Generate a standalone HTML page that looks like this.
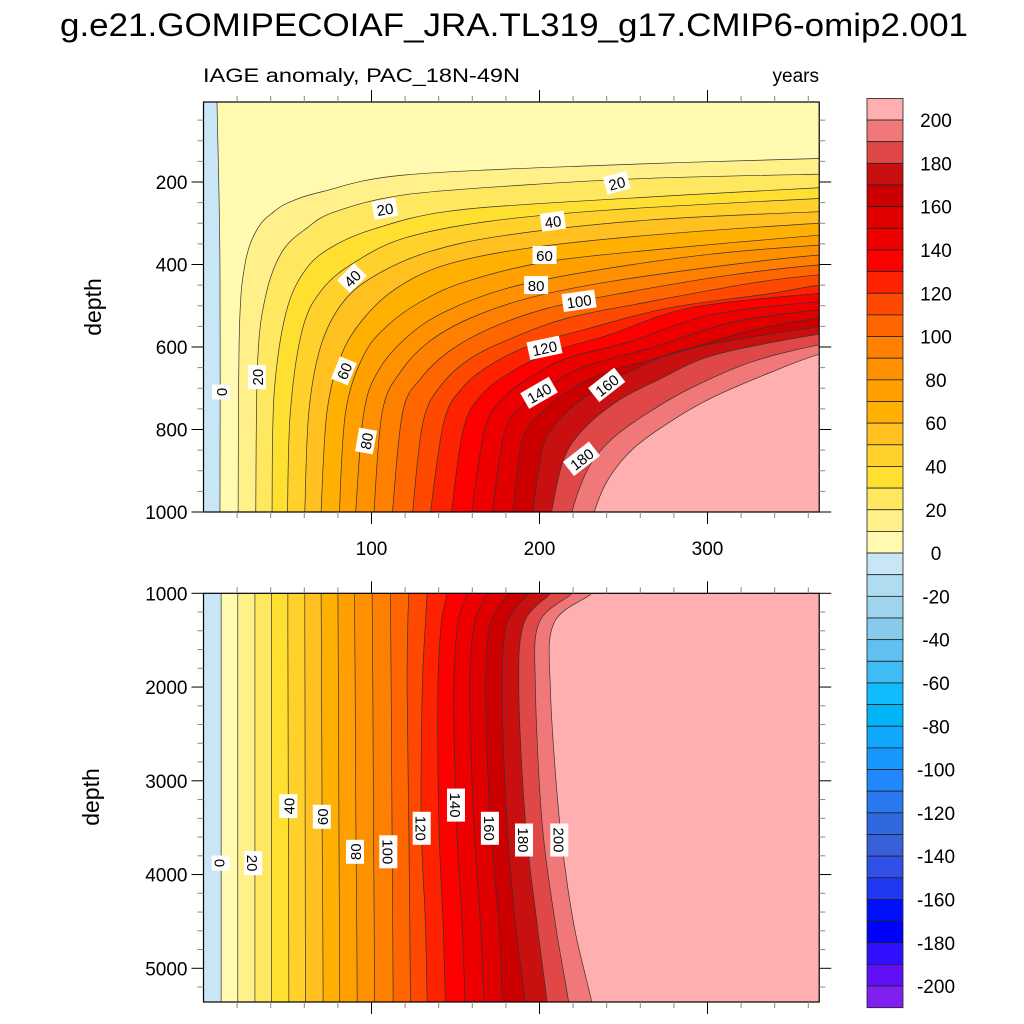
<!DOCTYPE html>
<html><head><meta charset="utf-8"><style>
html,body{margin:0;padding:0;background:#fff;}
svg{display:block;font-family:"Liberation Sans",sans-serif;}
</style></head><body>
<svg id="chart" width="1024" height="1024" viewBox="0 0 1024 1024" xmlns="http://www.w3.org/2000/svg">
<text x="60" y="36" font-size="32" textLength="908" lengthAdjust="spacingAndGlyphs">g.e21.GOMIPECOIAF_JRA.TL319_g17.CMIP6-omip2.001</text>
<text x="203" y="82" font-size="19" textLength="317" lengthAdjust="spacingAndGlyphs">IAGE anomaly, PAC_18N-49N</text>
<text x="819" y="82" font-size="19" text-anchor="end">years</text>
<text transform="translate(101,307) rotate(-90)" font-size="23" text-anchor="middle">depth</text>
<text transform="translate(99,797) rotate(-90)" font-size="23" text-anchor="middle">depth</text>
<g id="layer"></g>
</svg>
<script>
// ---- data ----
const levels = [0,10,20,30,40,50,60,70,80,90,100,110,120,130,140,150,160,170,180,190,200];
const bandColors = ['#fffab0','#fff08a','#ffe860','#ffe030','#ffd12a','#ffc020','#ffb000','#ffa000','#ff9100','#ff8000','#ff6600','#ff4800','#ff2200','#ff0000','#ee0000','#e00000','#cc0000','#c81010','#e04848','#f07878','#ffafaf'];
const negColors = ['#c8e6f5','#b0dcf2','#9ed4ee','#88caec','#60c0f0','#40bcf4','#10bcfc','#00b4f8','#10a8fc','#1898fc','#2088fc','#2a78f0','#3068e0','#3860d8','#3050e8','#2038f0','#0010ff','#0000ff','#3010ff','#6010f8','#8020f0'];
const cbarLabels = [200,180,160,140,120,100,80,60,40,20,0,-20,-40,-60,-80,-100,-120,-140,-160,-180,-200];

// top panel contours: time (years) and depth (m) per level
const topT = [
 [9.8,9.8,8,8],
 [20.6,21.4,25,32.3,41.9,51.7,71.1,119.6,241,366.5],
 [31.1,32.2,37.1,46.8,61.4,78.4,119.6,192,265.6,366.5],
 [40.8,42,49.3,61.4,78.4,102.9,144,216.6,366.5],
 [50,51.7,59,71.1,90.6,119.6,168.6,241,366.5],
 [60.3,62.7,70,83.3,102.9,134.3,180.3,265.6,366.5],
 [70,73.5,82.1,95.5,114.7,144,192,265.6,366.5],
 [80.9,84.6,95.5,109.8,129.4,155.8,204.8,277.3,366.5],
 [90.6,95.5,104.9,122.5,144,180.3,229.3,301.8,366.5],
 [101.5,106.4,117.3,134.3,158.8,193,241,314.6,366.5],
 [112.5,118.6,129.4,146,170.5,204.8,253.8,314.6,366.5],
 [124.5,130.7,141.6,158.8,183.3,216.6,265.6,326.3,366.5],
 [135.2,143.1,153.9,170.5,195,229.3,277.3,338.1,366.5],
 [147.7,154.8,165.6,183.3,207.8,241,290,366.5],
 [159.7,167.6,178.4,195,216.6,253.8,301.8,366.5],
 [172,179.3,190.1,207.8,229.3,265.6,314.6,366.5],
 [184.2,190.1,202.9,219.5,241,277.3,326.3,366.5],
 [196.3,202.4,214.6,231.6,253.5,290,366.5],
 [207.3,214.6,226.7,246.2,270.5,304.5,366.5],
 [219.4,229,243.7,265.6,289.9,326.4,366.5],
 [232.8,241.3,255.9,277.8,302.1,338.5,366.5]
];
const topZ = [
 [1000,400,0,-20],
 [1000,555,393,312,272,248,223,183,159,143],
 [1000,636,474,369,312,272,231,207,191,181],
 [1000,716,514,409,353,312,272,248,214],
 [1000,757,555,458,393,336,296,268,240],
 [1000,757,595,490,425,369,329,292,272],
 [1000,757,619,530,458,401,361,329,300],
 [1000,757,619,547,490,442,393,361,329],
 [1000,757,652,571,514,458,417,375,353],
 [1000,757,660,587,530,482,442,400,377],
 [1000,757,676,611,555,506,466,425,401],
 [1000,781,692,628,579,530,490,445,425],
 [1000,781,700,644,595,555,505,470,450],
 [1000,797,716,660,611,571,505,470],
 [1000,797,724,672,627,587,522,490],
 [1000,805,741,688,644,603,540,510],
 [1000,821,753,700,660,619,560,530],
 [998,838,765,708,660,603,551],
 [998,870,797,732,680,619,569],
 [998,894,821,757,700,636,595],
 [998,918,846,781,724,660,618]
];
// bottom panel contours: time per level at fixed depths
const botZ = [1000,1320,2030,3460,4530,5380];
const botT = [
 [10.5,10.5,10.5,10.5,10.5,10.5],
 [20.4,20.4,20.4,20.4,20.4,20.4],
 [30.6,30.6,30.6,30.6,30.6,30.6],
 [40.5,40.5,40.5,40.5,40.5,40.5],
 [50.2,50.2,50.3,50.5,50.7,50.8],
 [60.3,60.3,60.4,60.5,60.6,60.7],
 [70.0,70.1,70.3,70.6,71.0,71.2],
 [80.0,80.1,80.3,80.6,80.9,81.1],
 [89.9,90.0,90.3,90.7,91.2,91.5],
 [100.4,100.5,100.8,101.2,101.6,101.8],
 [111.3,111.4,111.7,112.2,112.6,112.9],
 [122.2,121.6,121.2,122.2,122.8,123.2],
 [133.1,132.1,130.2,129.6,132.1,133.1],
 [145.0,141.5,139.5,140.1,142.6,144.0],
 [156.9,151.4,149.0,150.6,154.0,155.6],
 [168.8,161.3,158.5,160.9,164.9,166.9],
 [181.7,170.8,167.9,170.8,175.8,177.8],
 [193.6,180.7,177.8,180.7,185.7,191.7],
 [206.5,190.7,187.7,191.7,198.6,204.6],
 [219.4,199.6,197.6,201.6,209.5,217.5],
 [231.3,208.5,206.5,212.1,220.4,231.3]
];
const topLabelText = ['20','20','40','60','80','100','120','140','160','180','40','60','80','20','0'];
const topLabelT = [108,246,208,203,198,223.5,203,199.7,240,225,88.4,83.6,96.7,31.8,10.4];
const topLabelZ = [265,202,295,377,450,488,602,711,692,871,433,658,828,673,709];
const topLabelAng = [-10,-15,-8,0,0,-8,-12,-30,-38,-38,-45,-68,-80,-90,-90];
const botLabelText = ['0','20','40','60','80','100','120','140','160','180','200'];
const botLabelT = [10.2,29.6,50.5,70.4,90.2,110,129.9,150.3,170.5,190.8,211.8];
const botLabelZ = [3878,3878,3270,3384,3757,3757,3507,3259,3507,3632,3632];
const botLabelAng = [90,90,-90,-90,-90,90,90,90,90,90,90];
const xTicks = [100,200,300];
const topYTicks = [200,400,600,800,1000];
const botYTicks = [1000,2000,3000,4000,5000];

// ---- scales ----
const X0=203.5, PX=1.68, TMAX=366.5;
const sx = t => X0 + t*PX;
const topY = z => 99.5 + z*0.4125;
const botY = z => 593.3 + (z-1000)*0.09375;
const TOP={x:203.5,y:102,w:TMAX*PX,h:410};
const BOT={x:203.5,y:593.3,w:TMAX*PX,h:1002-593.3};
const NS='http://www.w3.org/2000/svg';
const layer=document.getElementById('layer');
function mk(tag,attrs,parent){const e=document.createElementNS(NS,tag);for(const k in attrs)e.setAttribute(k,attrs[k]);(parent||layer).appendChild(e);return e;}

function smooth(pts){
  let d='M'+pts[0][0].toFixed(2)+','+pts[0][1].toFixed(2);
  for(let i=0;i<pts.length-1;i++){
    const p0=pts[Math.max(0,i-1)],p1=pts[i],p2=pts[i+1],p3=pts[Math.min(pts.length-1,i+2)];
    const c1=[p1[0]+(p2[0]-p0[0])/6,p1[1]+(p2[1]-p0[1])/6];
    const c2=[p2[0]-(p3[0]-p1[0])/6,p2[1]-(p3[1]-p1[1])/6];
    d+='C'+c1[0].toFixed(2)+','+c1[1].toFixed(2)+' '+c2[0].toFixed(2)+','+c2[1].toFixed(2)+' '+p2[0].toFixed(2)+','+p2[1].toFixed(2);
  }
  return d;
}

const defs=mk('defs',{});
const cp1=mk('clipPath',{id:'clipTop'},defs);mk('rect',{x:TOP.x,y:TOP.y,width:TOP.w,height:TOP.h},cp1);
const cp2=mk('clipPath',{id:'clipBot'},defs);mk('rect',{x:BOT.x,y:BOT.y,width:BOT.w,height:BOT.h},cp2);

// ---- top panel ----
const gTop=mk('g',{'clip-path':'url(#clipTop)'});


const bgT=mk('rect',{x:TOP.x,y:TOP.y,width:TOP.w,height:TOP.h,fill:negColors[0]},gTop);


const topLines=[];
levels.forEach((lv,i)=>{
  const pts=topT[i].map((t,j)=>[sx(t),topY(topZ[i][j])]);
  pts.unshift([pts[0][0],topY(1040)]);
  const last=pts[pts.length-1];
  pts.push([sx(TMAX+15),last[1]]);
  const line=smooth(pts);
  const f=mk('path',{d:line+'L'+sx(TMAX+20)+','+topY(1100)+'L'+pts[0][0]+','+topY(1100)+'Z',fill:bandColors[i],stroke:'none'},gTop);
  
  
  topLines.push(line);
});
topLines.forEach((line,i)=>{
  const s=mk('path',{d:line,fill:'none',stroke:'#333',"stroke-width":0.7},gTop);
  
  
});
topLabelText.forEach((txt,i)=>{
  const g=mk('g',{transform:'translate('+sx(topLabelT[i]).toFixed(1)+','+topY(topLabelZ[i]).toFixed(1)+') rotate('+topLabelAng[i]+')'},gTop);
  
  
  const w=txt.length*9+6;
  mk('rect',{x:-w/2,y:-9,width:w,height:18,fill:'#fff'},g);
  const t=mk('text',{x:0,y:6,'font-size':15,'text-anchor':'middle'},g);t.textContent=txt;
});

// ---- bottom panel ----
const gBot=mk('g',{'clip-path':'url(#clipBot)'});


const bgB=mk('rect',{x:BOT.x,y:BOT.y,width:BOT.w,height:BOT.h,fill:negColors[0]},gBot);


const botLines=[];
levels.forEach((lv,i)=>{
  const pts=botT[i].map((t,j)=>[sx(t),botY(botZ[j])]);
  pts.unshift([pts[0][0],botY(900)]);
  pts.push([pts[pts.length-1][0],botY(5600)]);
  const line=smooth(pts);
  const f=mk('path',{d:line+'L'+sx(TMAX+20)+','+botY(5600)+'L'+sx(TMAX+20)+','+botY(900)+'Z',fill:bandColors[i],stroke:'none'},gBot);
  
  
  botLines.push(line);
});
botLines.forEach((line,i)=>{
  const s=mk('path',{d:line,fill:'none',stroke:'#333',"stroke-width":0.7},gBot);
  
  
});
botLabelText.forEach((txt,i)=>{
  const g=mk('g',{transform:'translate('+sx(botLabelT[i]).toFixed(1)+','+botY(botLabelZ[i]).toFixed(1)+') rotate('+botLabelAng[i]+')'},gBot);
  
  
  const w=txt.length*9+6;
  mk('rect',{x:-w/2,y:-9,width:w,height:18,fill:'#fff'},g);
  const t=mk('text',{x:0,y:6,'font-size':15,'text-anchor':'middle'},g);t.textContent=txt;
});

// ---- frames and ticks ----
function frame(P,name,yf,yTicks,yMinorStep,yMin,yMax,xLabels){
  const g=mk('g',{});
  
  
  mk('rect',{x:P.x,y:P.y,width:P.w,height:P.h,fill:'none',stroke:'#000','stroke-width':1.2},g);
  for(let t=20;t<=TMAX;t+=20){
    const maj=t%100===0, L=maj?12:6, x=sx(t);
    mk('line',{x1:x,x2:x,y1:P.y+P.h,y2:P.y+P.h+L,stroke:maj?'#000':'#888','stroke-width':1},g);
    mk('line',{x1:x,x2:x,y1:P.y,y2:P.y-L,stroke:maj?'#000':'#888','stroke-width':1},g);
  }
  if(xLabels){xTicks.forEach(t=>{const tx=mk('text',{x:sx(t),y:P.y+P.h+43,'font-size':19,'text-anchor':'middle'},g);tx.textContent=t;});}
  for(let z=Math.ceil(yMin/yMinorStep)*yMinorStep;z<=yMax;z+=yMinorStep){
    const y=yf(z); if(y<P.y-0.5||y>P.y+P.h+0.5)continue;
    const maj=yTicks.includes(z), L=maj?12:6;
    mk('line',{x1:P.x,x2:P.x-L,y1:y,y2:y,stroke:maj?'#000':'#888','stroke-width':1},g);
    mk('line',{x1:P.x+P.w,x2:P.x+P.w+L,y1:y,y2:y,stroke:maj?'#000':'#888','stroke-width':1},g);
  }
  yTicks.forEach(z=>{const tx=mk('text',{x:P.x-16,y:yf(z)+7,'font-size':19,'text-anchor':'end'},g);tx.textContent=z;});
}
frame(TOP,'top-panel',topY,topYTicks,50,0,1000,true);
frame(BOT,'bottom-panel',botY,botYTicks,200,1000,5400,false);

// ---- colorbar ----
const cb=mk('g',{});


const CBX=867,CBW=36,CBTOP=98.4,BH=21.65;
const allColors=bandColors.slice().reverse().concat(negColors);
allColors.forEach((c,i)=>{
  const r=mk('rect',{x:CBX,y:CBTOP+i*BH,width:CBW,height:BH,fill:c,stroke:'#222','stroke-width':0.8},cb);
  
  
});
cbarLabels.forEach(v=>{
  const y=CBTOP+BH+(200-v)/10*BH;
  const t=mk('text',{x:936,y:y+7,'font-size':19,'text-anchor':'middle'},cb);
  t.textContent=v;
  
  
});
</script>
</body></html>
